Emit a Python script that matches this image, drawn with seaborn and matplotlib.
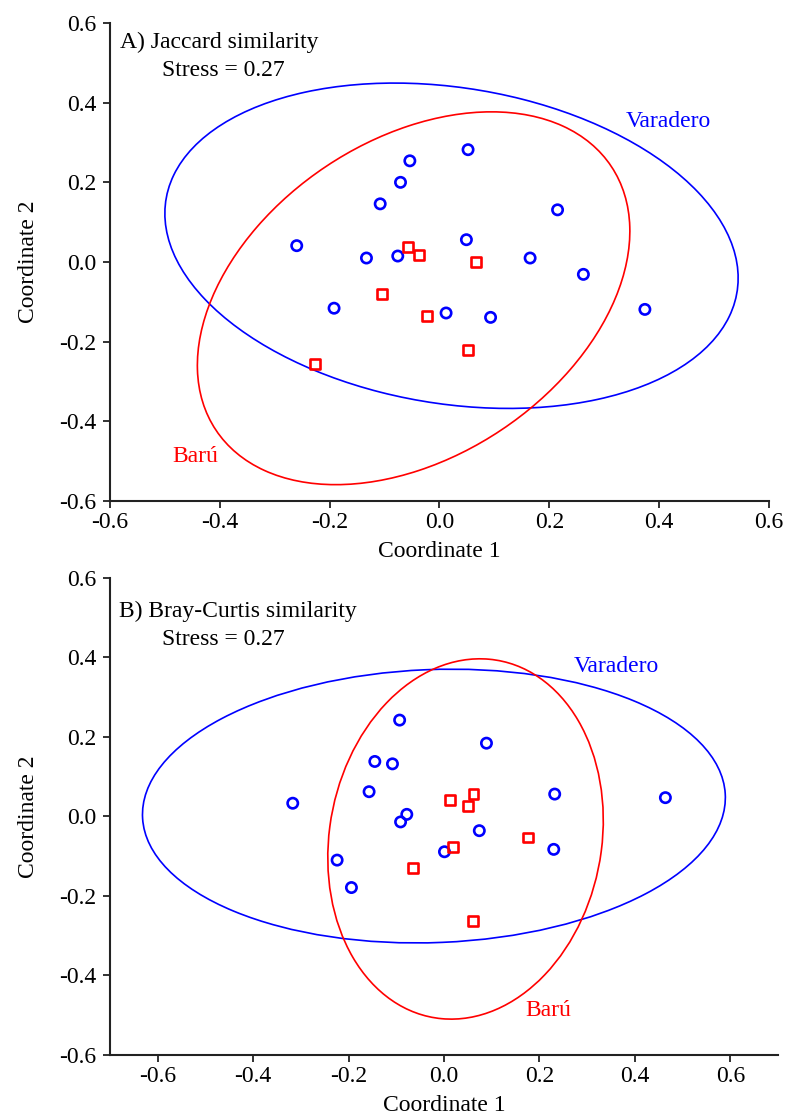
import numpy as np
import pandas as pd
import matplotlib
matplotlib.use("Agg")
import matplotlib.pyplot as plt
from matplotlib.patches import Ellipse
from matplotlib.ticker import FormatStrFormatter, MultipleLocator
import seaborn as sns

# ---------------- data ----------------
# Panel A: Jaccard similarity nMDS
jac_varadero_x = [0.052, -0.054, -0.071, -0.108, 0.215, -0.260, 0.049, -0.133,
                  -0.076, 0.165, 0.262, -0.192, 0.012, 0.093, 0.374]
jac_varadero_y = [0.282, 0.254, 0.200, 0.146, 0.131, 0.041, 0.056, 0.010,
                  0.015, 0.010, -0.031, -0.116, -0.128, -0.139, -0.119]
jac_baru_x = [-0.057, -0.038, 0.066, -0.104, -0.023, 0.052, -0.226]
jac_baru_y = [0.038, 0.018, 0.000, -0.081, -0.136, -0.220, -0.256]

# Panel B: Bray-Curtis similarity nMDS
bc_varadero_x = [-0.093, 0.089, -0.145, -0.108, -0.157, -0.317, 0.232, 0.464,
                 -0.078, -0.091, 0.074, 0.001, 0.230, -0.224, -0.194]
bc_varadero_y = [0.242, 0.184, 0.138, 0.132, 0.062, 0.033, 0.056, 0.047,
                 0.005, -0.014, -0.036, -0.089, -0.083, -0.110, -0.179]
bc_baru_x = [0.013, 0.062, 0.051, 0.019, 0.176, -0.065, 0.060]
bc_baru_y = [0.042, 0.057, 0.025, -0.077, -0.053, -0.129, -0.263]

sites = ["Varadero", "Barú"]
site_colors = {"Varadero": "#0000FF", "Barú": "#FF0000"}
site_markers = {"Varadero": "o", "Barú": "s"}
panel_titles = ["A) Jaccard similarity", "B) Bray-Curtis similarity"]
stress_values = [0.27, 0.27]

jac_df = pd.DataFrame({
    "x": jac_varadero_x + jac_baru_x,
    "y": jac_varadero_y + jac_baru_y,
    "site": ["Varadero"] * len(jac_varadero_x) + ["Barú"] * len(jac_baru_x),
})
bc_df = pd.DataFrame({
    "x": bc_varadero_x + bc_baru_x,
    "y": bc_varadero_y + bc_baru_y,
    "site": ["Varadero"] * len(bc_varadero_x) + ["Barú"] * len(bc_baru_x),
})

# ---------------- style ----------------
sns.set_theme(style="ticks")
plt.rcParams["font.family"] = ["Liberation Serif", "DejaVu Serif"]
plt.rcParams["axes.unicode_minus"] = False

FS = 17


def f_quantile_2(p, d):
    # quantile of F(2, d) distribution (closed form)
    return d / 2.0 * ((1.0 - p) ** (-2.0 / d) - 1.0)


def prediction_ellipse(ax, xs, ys, color):
    pts = np.column_stack([xs, ys])
    n = len(pts)
    mean = pts.mean(axis=0)
    cov = np.cov(pts, rowvar=False)
    vals, vecs = np.linalg.eigh(cov)
    order = vals.argsort()[::-1]
    vals, vecs = vals[order], vecs[:, order]
    k2 = 2.0 * (n - 1) * (n + 1) / (n * (n - 2)) * f_quantile_2(0.95, n - 2)
    k = np.sqrt(k2)
    angle = np.degrees(np.arctan2(vecs[1, 0], vecs[0, 0]))
    e = Ellipse(mean, 2 * k * np.sqrt(vals[0]), 2 * k * np.sqrt(vals[1]),
                angle=angle, fill=False, edgecolor=color, linewidth=1.2,
                zorder=1)
    ax.add_patch(e)


fig = plt.figure(figsize=(7.86, 11.14), dpi=100)
ax_a = fig.add_axes([0.13995, 0.55027, 0.83842, 0.42908])
ax_b = fig.add_axes([0.13995, 0.05296, 0.84987, 0.42846])

panels = [
    (ax_a, jac_df, (-0.6, 0.6),
     {"Varadero": (0.340, 0.339), "Barú": (-0.486, -0.502)},
     (-0.581, 0.537), (-0.506, 0.467)),
    (ax_b, bc_df, (-0.7, 0.7),
     {"Varadero": (0.272, 0.362), "Barú": (0.170, -0.501)},
     (-0.681, 0.501), (-0.592, 0.431)),
]

for i, (ax, df, xlim, lab_pos, title_pos, stress_pos) in enumerate(panels):
    for site in sites:
        sub = df[df["site"] == site]
        prediction_ellipse(ax, sub["x"].values, sub["y"].values,
                           site_colors[site])
        sns.scatterplot(data=sub, x="x", y="y", ax=ax,
                        marker=site_markers[site],
                        s=55 if site == "Varadero" else 50,
                        facecolor="none", edgecolor=site_colors[site],
                        linewidth=1.9, zorder=3, legend=False)
        ax.text(lab_pos[site][0], lab_pos[site][1], site,
                color=site_colors[site], fontsize=FS, va="baseline",
                ha="left")
    ax.text(title_pos[0], title_pos[1], panel_titles[i], fontsize=FS,
            va="baseline", ha="left", color="black")
    ax.text(stress_pos[0], stress_pos[1],
            f"Stress = {stress_values[i]:.2f}", fontsize=FS,
            va="baseline", ha="left", color="black")

    ax.set_xlim(*xlim)
    ax.set_ylim(-0.6, 0.6)
    ax.xaxis.set_major_locator(MultipleLocator(0.2))
    ax.yaxis.set_major_locator(MultipleLocator(0.2))
    ax.xaxis.set_major_formatter(FormatStrFormatter("%.1f"))
    ax.yaxis.set_major_formatter(FormatStrFormatter("%.1f"))
    ax.set_xlabel("Coordinate 1", fontsize=FS, labelpad=5.5, color="black")
    ax.set_ylabel("Coordinate 2", fontsize=FS, labelpad=14, color="black")
    ax.tick_params(axis="both", direction="out", length=5, width=1.3,
                   labelsize=FS, colors="#222222", labelcolor="black")
    ax.tick_params(axis="x", pad=3)
    ax.tick_params(axis="y", pad=5)
    for side in ["top", "right"]:
        ax.spines[side].set_visible(False)
    for side in ["left", "bottom"]:
        ax.spines[side].set_linewidth(1.5)
        ax.spines[side].set_color("#222222")
    ax.set_facecolor("white")

fig.savefig("out.png", dpi=100, facecolor="white")
